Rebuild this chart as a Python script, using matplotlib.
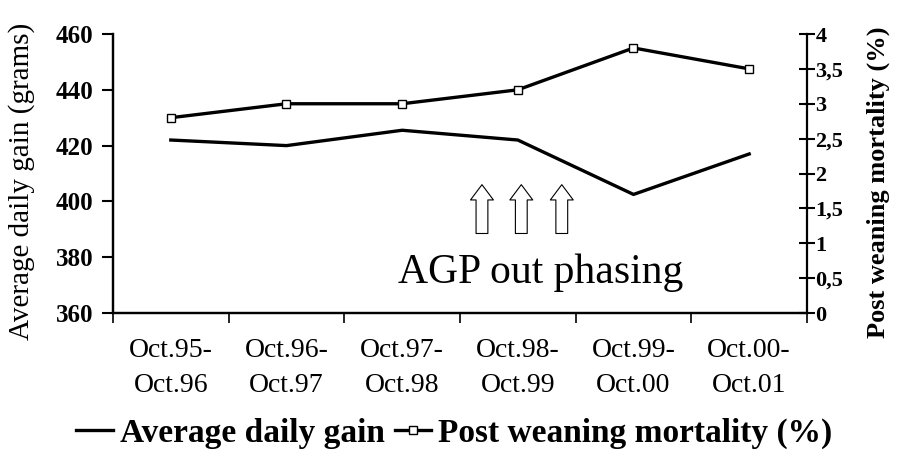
import matplotlib
matplotlib.use("Agg")
import matplotlib.pyplot as plt

categories = ["Oct.95-\nOct.96", "Oct.96-\nOct.97", "Oct.97-\nOct.98",
              "Oct.98-\nOct.99", "Oct.99-\nOct.00", "Oct.00-\nOct.01"]
adg = [422, 420, 425.5, 422, 402.5, 417]
mortality = [2.8, 3.0, 3.0, 3.2, 3.8, 3.5]
left_ticks = [360, 380, 400, 420, 440, 460]
right_ticks = [0, 0.5, 1, 1.5, 2, 2.5, 3, 3.5, 4]
right_labels = ["0", "0,5", "1", "1,5", "2", "2,5", "3", "3,5", "4"]
arrow_x = [2.69, 3.03, 3.38]

plt.rcParams['font.family'] = ['Liberation Serif', 'DejaVu Serif']

fig = plt.figure(figsize=(9.03, 4.62), dpi=100)
ax = fig.add_axes([0.1251, 0.3225, 0.7686, 0.6039])
ax2 = ax.twinx()

x = list(range(len(categories)))
l1, = ax.plot(x, adg, color='black', lw=2.4, label='Average daily gain')
l2, = ax2.plot(x, mortality, color='black', lw=2.4, marker='s', markersize=5.5,
               markerfacecolor='white', markeredgecolor='black', markeredgewidth=1.0,
               label='Post weaning mortality (%)')

ax.set_xlim(-0.5, 5.5)
ax.set_ylim(360, 460)
ax2.set_ylim(0, 4)

ax.set_yticks(left_ticks)
ax.set_yticklabels([str(t) for t in left_ticks], fontsize=18, fontweight='bold')
ax2.set_yticks(right_ticks)
ax2.set_yticklabels(right_labels, fontsize=16, fontweight='bold')

ax.set_xticks([i - 0.5 for i in range(len(categories) + 1)])
ax.set_xticklabels([])
ax.set_xticks(x, minor=True)
ax.set_xticklabels(categories, minor=True, fontsize=20, linespacing=1.5)
ax.tick_params(axis='x', which='minor', length=0, pad=18)
ax.tick_params(axis='x', which='major', length=7, width=1.2, direction='out')
ax.tick_params(axis='y', length=8, width=1.5, direction='out', pad=6)
ax2.tick_params(axis='y', length=12, width=1.5, direction='inout', pad=0)

for a in (ax, ax2):
    a.spines['top'].set_visible(False)
    for s in ('left', 'right', 'bottom'):
        a.spines[s].set_linewidth(1.6)
ax.spines['right'].set_visible(False)

ax.set_ylabel('Average daily gain (grams)', fontsize=21)
ax.yaxis.set_label_coords(-0.112, 0.47)
ax2.set_ylabel('Post weaning mortality (%)', fontsize=19, fontweight='bold')
ax2.yaxis.set_label_coords(1.086, 0.47)

for xa in arrow_x:
    ax.annotate('', xy=(xa, 406), xytext=(xa, 388.5),
                arrowprops=dict(arrowstyle='simple,head_width=1.65,head_length=1.1,tail_width=0.85',
                                fc='white', ec='black', lw=0.8, shrinkA=0, shrinkB=0))

ax.text(3.2, 370.8, 'AGP out phasing', fontsize=30, ha='center', va='baseline')

fig.legend(handles=[l1, l2], loc='center', bbox_to_anchor=(0.503, 0.062), ncol=2,
           frameon=False, prop={'weight': 'bold', 'size': 24},
           handlelength=1.1, handletextpad=0.2, columnspacing=0.3)

fig.savefig('out.png', dpi=100)
